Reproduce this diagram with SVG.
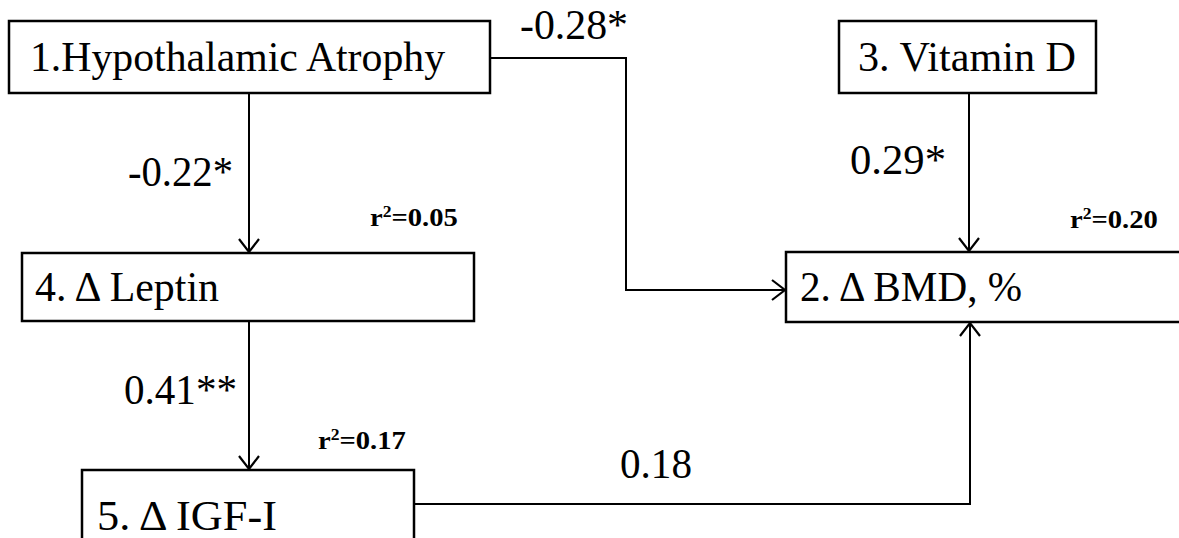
<svg xmlns="http://www.w3.org/2000/svg" width="1179" height="538" viewBox="0 0 1179 538">
<style>
.box{fill:#fff;stroke:#000;stroke-width:2.5}
.t{font-family:"Liberation Serif","Times New Roman",serif;font-size:43px;fill:#000}
.r{font-family:"Liberation Serif","Times New Roman",serif;font-size:26px;font-weight:bold;fill:#000}
.c{fill:none;stroke:#000;stroke-width:2}
</style>
<defs>
<marker id="ah" viewBox="0 0 16 22" refX="14" refY="11" markerWidth="16" markerHeight="22" markerUnits="userSpaceOnUse" orient="auto">
<polyline points="1,1 14,11 1,21" fill="none" stroke="#000" stroke-width="2.2"/>
</marker>
</defs>
<rect width="1179" height="538" fill="#fff"/>
<g id="connectors">
<polyline class="c" points="490,58 626,58 626,290 785,290" marker-end="url(#ah)"/>
<line class="c" x1="249" y1="93" x2="249" y2="252" marker-end="url(#ah)"/>
<line class="c" x1="969" y1="93" x2="969" y2="251" marker-end="url(#ah)"/>
<line class="c" x1="249" y1="321" x2="249" y2="469" marker-end="url(#ah)"/>
<polyline class="c" points="414,504 970,504 970,323" marker-end="url(#ah)"/>
<text class="t" x="520" y="39" textLength="108" lengthAdjust="spacingAndGlyphs">-0.28*</text>
<text class="t" x="128" y="186" textLength="105" lengthAdjust="spacingAndGlyphs">-0.22*</text>
<text class="t" x="850" y="174" textLength="96" lengthAdjust="spacingAndGlyphs">0.29*</text>
<text class="t" x="124" y="404" textLength="113" lengthAdjust="spacingAndGlyphs">0.41**</text>
<text class="t" x="620" y="478" textLength="72" lengthAdjust="spacingAndGlyphs">0.18</text>
</g>
<g id="node1">
<rect class="box" x="9" y="21" width="481" height="72"/>
<text class="t" x="30" y="71" textLength="415" lengthAdjust="spacingAndGlyphs">1.Hypothalamic Atrophy</text>
</g>
<g id="node3">
<rect class="box" x="839" y="21" width="257" height="72"/>
<text class="t" x="858" y="71" textLength="218" lengthAdjust="spacingAndGlyphs">3. Vitamin D</text>
</g>
<g id="node4">
<rect class="box" x="22" y="253" width="452" height="68"/>
<text class="t" x="35" y="301" textLength="184" lengthAdjust="spacingAndGlyphs">4. Δ Leptin</text>
<text class="r" transform="translate(370,226) scale(1.1,1)">r<tspan font-size="16" dy="-9">2</tspan><tspan dy="9">=0.05</tspan></text>
</g>
<g id="node2">
<rect class="box" x="786" y="252" width="400" height="70"/>
<text class="t" x="800" y="301" textLength="222" lengthAdjust="spacingAndGlyphs">2. Δ BMD, %</text>
<text class="r" transform="translate(1070,228) scale(1.1,1)">r<tspan font-size="16" dy="-9">2</tspan><tspan dy="9">=0.20</tspan></text>
</g>
<g id="node5">
<rect class="box" x="82" y="470" width="332" height="80"/>
<text class="t" x="97" y="530" textLength="180" lengthAdjust="spacingAndGlyphs">5. Δ IGF-I</text>
<text class="r" transform="translate(318,449) scale(1.1,1)">r<tspan font-size="16" dy="-9">2</tspan><tspan dy="9">=0.17</tspan></text>
</g>
</svg>
